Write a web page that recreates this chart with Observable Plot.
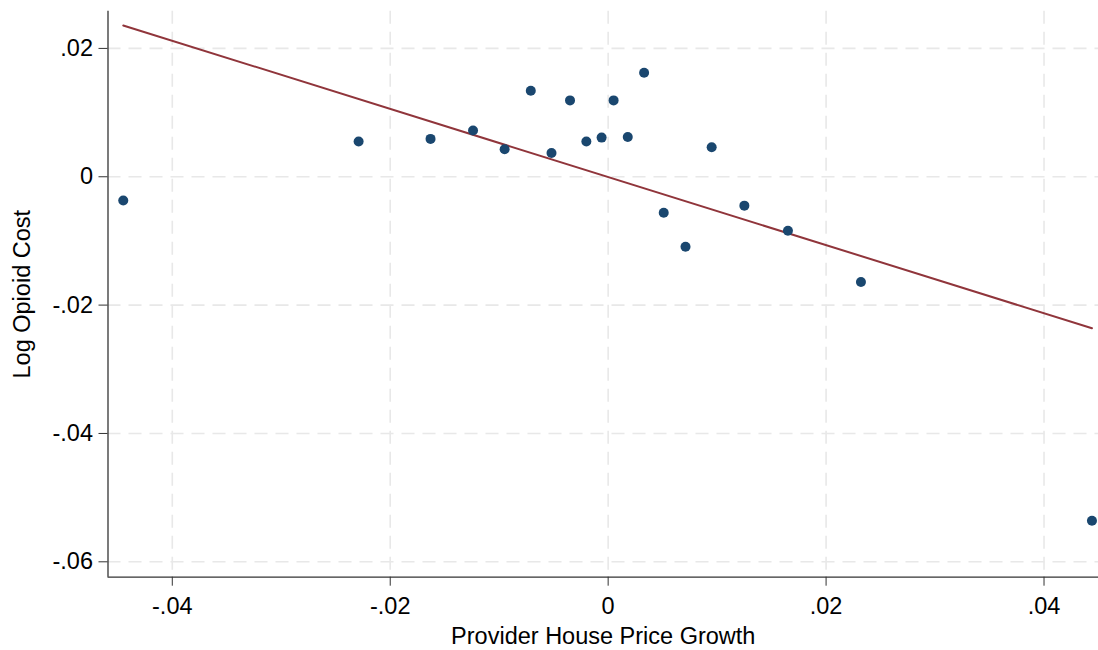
<!DOCTYPE html>
<html>
<head>
<meta charset="utf-8">
<script src="https://cdn.jsdelivr.net/npm/d3@7"></script>
<script src="https://cdn.jsdelivr.net/npm/@observablehq/plot@0.6"></script>
<style>
  html, body { margin: 0; padding: 0; background: #fff; }
  #chart svg { display: block; }
</style>
</head>
<body>
<div id="chart"></div>
<script>
// Binned means: provider house price growth vs. log opioid cost
const houseGrowth = [
  -0.0445, -0.0229, -0.0163, -0.0124, -0.0095, -0.0071, -0.0052, -0.0035, -0.0020, -0.0006,
   0.0005,  0.0018,  0.0033,  0.0051,  0.0071,  0.0095,  0.0125,  0.0165,  0.0232,  0.0444
];
const logOpioidCost = [
  -0.0037,  0.0055,  0.0059,  0.0072,  0.0043,  0.0134,  0.0037,  0.0119,  0.0055,  0.0061,
   0.0119,  0.0062,  0.0162, -0.0056, -0.0109,  0.0046, -0.0045, -0.0084, -0.0164, -0.0536
];

const xTicks = [-0.04, -0.02, 0, 0.02, 0.04];
const yTicks = [-0.06, -0.04, -0.02, 0, 0.02];
const xDomain = [-0.0459, 0.0450];
const yDomain = [-0.0624, 0.0258];

const points = houseGrowth.map((x, i) => ({x, y: logOpioidCost[i]}));

// Stata-style labels: ".02", "-.04", "0"
const fmt = d => d === 0 ? "0" : (d < 0 ? "-" : "") + Math.abs(d).toFixed(2).replace(/^0/, "");

const gridStyle = {stroke: "#e8e8e8", strokeOpacity: 1, strokeWidth: 1.6, strokeDasharray: "13,8"};

const chart = Plot.plot({
  width: 1098,
  height: 650,
  marginLeft: 107.5,
  marginRight: 0,
  marginTop: 10.7,
  marginBottom: 73.3,
  x: {domain: xDomain},
  y: {domain: yDomain},
  style: {
    fontFamily: "'Liberation Sans', Arial, sans-serif",
    fontSize: "23.5px",
    color: "#000",
    background: "#fff"
  },
  marks: [
    Plot.gridX(xTicks, gridStyle),
    Plot.gridY(yTicks, gridStyle),
    Plot.ruleX([xDomain[0]], {stroke: "#333", strokeWidth: 1.3}),
    Plot.ruleY([yDomain[0]], {stroke: "#333", strokeWidth: 1.3}),
    Plot.axisX(xTicks, {
      tickSize: 9, tickPadding: 11, tickFormat: fmt, fontSize: 23.5, stroke: "#333",
      label: "Provider House Price Growth", labelAnchor: "center", labelArrow: "none", labelOffset: 67
    }),
    Plot.axisY(yTicks, {
      tickSize: 9, tickPadding: 6, tickFormat: fmt, fontSize: 23.5, stroke: "#333",
      label: "Log Opioid Cost", labelAnchor: "center", labelArrow: "none", labelOffset: 95
    }),
    Plot.linearRegressionY(points, {x: "x", y: "y", ci: 0, stroke: "#90353b", strokeWidth: 2}),
    Plot.dot(points, {x: "x", y: "y", r: 5, fill: "#1a476f", stroke: null})
  ]
});

document.getElementById("chart").append(chart);
</script>
</body>
</html>
